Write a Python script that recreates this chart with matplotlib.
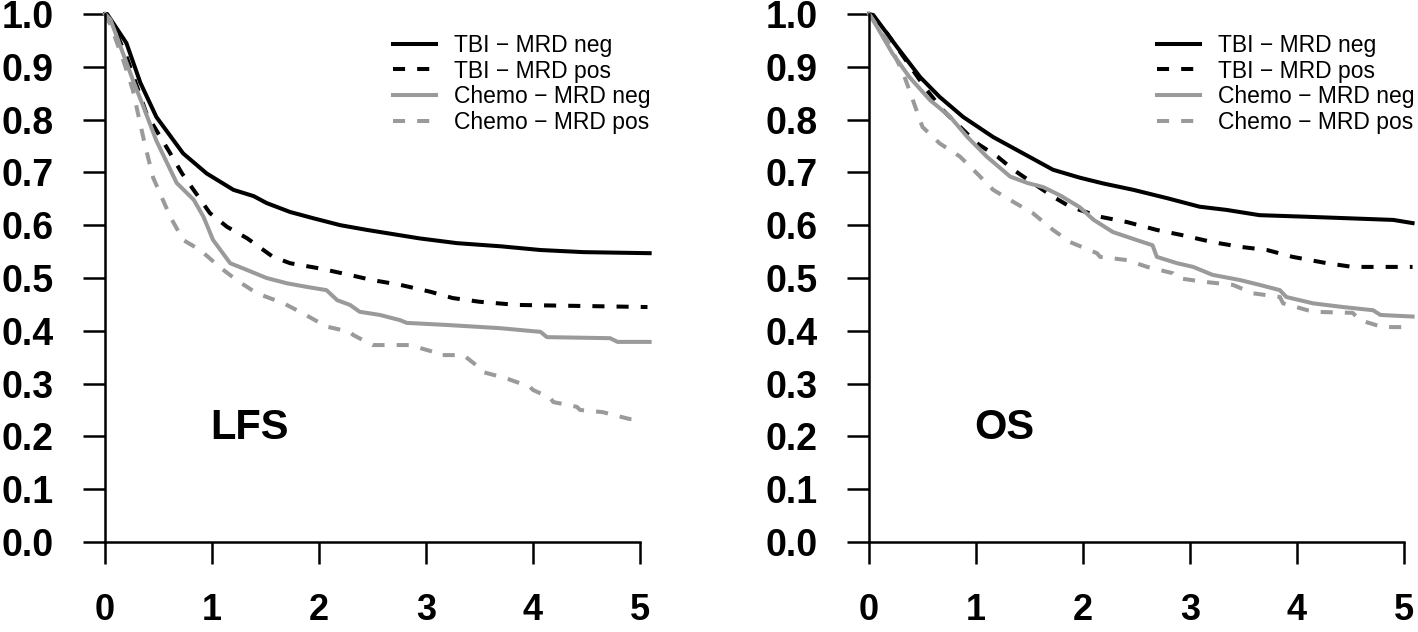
import matplotlib.pyplot as plt

plt.rcParams['font.family'] = ['Liberation Sans', 'DejaVu Sans']

# Data (years, survival probability)
labels = ["TBI \u2212 MRD neg", "TBI \u2212 MRD pos", "Chemo \u2212 MRD neg", "Chemo \u2212 MRD pos"]

# LFS panel
lfs_tbi_neg_t = [0, 0.02, 0.2, 0.33, 0.48, 0.73, 0.95, 1.2, 1.39, 1.51, 1.73, 1.95, 2.2, 2.45, 2.94, 3.29, 3.7, 4.07, 4.47, 5.09]
lfs_tbi_neg_s = [1.0, 1.0, 0.945, 0.87, 0.805, 0.736, 0.698, 0.667, 0.655, 0.642, 0.625, 0.613, 0.60, 0.591, 0.575, 0.566, 0.56, 0.553, 0.549, 0.547]
lfs_tbi_pos_t = [0, 0.05, 0.2, 0.39, 0.61, 0.72, 0.98, 1.14, 1.33, 1.57, 1.73, 2.01, 2.26, 2.5, 2.76, 3.04, 3.25, 3.5, 3.85, 5.07]
lfs_tbi_pos_s = [1.0, 0.99, 0.92, 0.81, 0.736, 0.698, 0.623, 0.597, 0.575, 0.54, 0.528, 0.518, 0.507, 0.496, 0.487, 0.474, 0.462, 0.455, 0.449, 0.445]
lfs_chemo_neg_t = [0, 0.05, 0.27, 0.36, 0.48, 0.67, 0.83, 0.92, 1.01, 1.17, 1.33, 1.51, 1.7, 1.89, 2.07, 2.17, 2.29, 2.38, 2.57, 2.76, 2.82, 3.2, 3.69, 4.07, 4.13, 4.72, 4.79, 5.09]
lfs_chemo_neg_s = [1.0, 0.99, 0.87, 0.824, 0.76, 0.68, 0.648, 0.616, 0.572, 0.528, 0.515, 0.50, 0.49, 0.483, 0.477, 0.458, 0.449, 0.436, 0.43, 0.42, 0.415, 0.411, 0.405, 0.398, 0.388, 0.386, 0.379, 0.379]
lfs_chemo_pos_t = [0, 0.05, 0.17, 0.26, 0.31, 0.37, 0.45, 0.61, 0.73, 0.89, 1.07, 1.23, 1.42, 1.67, 1.85, 2.07, 2.29, 2.32, 2.5, 2.85, 3.07, 3.1, 3.35, 3.5, 3.53, 3.75, 3.97, 4.0, 4.16, 4.19, 4.41, 4.44, 4.65, 4.9, 5.0]
lfs_chemo_pos_s = [1.0, 0.98, 0.913, 0.856, 0.81, 0.755, 0.69, 0.616, 0.572, 0.553, 0.521, 0.496, 0.471, 0.452, 0.433, 0.408, 0.398, 0.392, 0.373, 0.373, 0.36, 0.354, 0.354, 0.33, 0.322, 0.31, 0.294, 0.288, 0.273, 0.265, 0.256, 0.25, 0.246, 0.233, 0.233]

# OS panel
os_tbi_neg_t = [0, 0.04, 0.26, 0.48, 0.66, 0.88, 1.16, 1.44, 1.72, 1.97, 2.19, 2.47, 2.79, 3.09, 3.34, 3.65, 4.09, 4.9, 5.08]
os_tbi_neg_s = [1.0, 0.998, 0.938, 0.88, 0.843, 0.805, 0.767, 0.736, 0.705, 0.69, 0.679, 0.667, 0.651, 0.635, 0.629, 0.619, 0.616, 0.61, 0.604]
os_tbi_pos_t = [0, 0.17, 0.54, 0.69, 1.01, 1.2, 1.35, 1.53, 1.72, 1.88, 2.16, 2.41, 2.69, 2.93, 3.21, 3.47, 3.72, 3.96, 4.28, 4.52, 5.08]
os_tbi_pos_s = [1.0, 0.963, 0.856, 0.818, 0.755, 0.73, 0.705, 0.68, 0.654, 0.635, 0.616, 0.606, 0.591, 0.581, 0.568, 0.559, 0.553, 0.54, 0.528, 0.521, 0.521]
os_chemo_neg_t = [0, 0.04, 0.22, 0.38, 0.57, 0.76, 0.92, 1.1, 1.32, 1.48, 1.63, 1.79, 1.97, 2.1, 2.28, 2.5, 2.65, 2.69, 2.88, 3.03, 3.21, 3.47, 3.65, 3.84, 3.9, 4.15, 4.43, 4.71, 4.78, 5.08]
os_chemo_neg_s = [1.0, 0.988, 0.925, 0.88, 0.837, 0.805, 0.767, 0.73, 0.692, 0.68, 0.672, 0.656, 0.634, 0.61, 0.587, 0.572, 0.562, 0.54, 0.528, 0.521, 0.506, 0.496, 0.487, 0.477, 0.464, 0.452, 0.445, 0.439, 0.43, 0.427]
os_chemo_pos_t = [0, 0.05, 0.17, 0.32, 0.41, 0.5, 0.66, 0.85, 1.01, 1.16, 1.35, 1.53, 1.72, 1.88, 2.13, 2.16, 2.41, 2.6, 2.84, 2.88, 3.12, 3.4, 3.59, 3.84, 3.87, 4.15, 4.52, 4.59, 4.8, 5.08]
os_chemo_pos_s = [1.0, 0.985, 0.95, 0.888, 0.837, 0.786, 0.755, 0.73, 0.698, 0.667, 0.644, 0.623, 0.591, 0.568, 0.547, 0.54, 0.534, 0.521, 0.509, 0.50, 0.493, 0.487, 0.471, 0.464, 0.452, 0.436, 0.434, 0.42, 0.407, 0.407]

x_ticks = [0, 1, 2, 3, 4, 5]
y_ticks = [0.0, 0.1, 0.2, 0.3, 0.4, 0.5, 0.6, 0.7, 0.8, 0.9, 1.0]

panels = [
    ("LFS", (1.35, 0.215),
     [(lfs_tbi_neg_t, lfs_tbi_neg_s), (lfs_tbi_pos_t, lfs_tbi_pos_s),
      (lfs_chemo_neg_t, lfs_chemo_neg_s), (lfs_chemo_pos_t, lfs_chemo_pos_s)]),
    ("OS", (1.26, 0.215),
     [(os_tbi_neg_t, os_tbi_neg_s), (os_tbi_pos_t, os_tbi_pos_s),
      (os_chemo_neg_t, os_chemo_neg_s), (os_chemo_pos_t, os_chemo_pos_s)]),
]

gray = "#9a9a9a"
styles = [
    dict(color="black", linestyle="-"),
    dict(color="black", linestyle=(0, (3, 3))),
    dict(color=gray, linestyle="-"),
    dict(color=gray, linestyle=(0, (3, 3))),
]

fig = plt.figure(figsize=(14.18, 6.32), dpi=100)
W, H = 1418, 632
px_per_year = 107
lefts = [105, 869]

for (name, txt_pos, curves), left in zip(panels, lefts):
    ax = fig.add_axes([left / W, 90 / H, 5.1 * px_per_year / W, 528 / H])
    for (t, s), lab, st in zip(curves, labels, styles):
        ax.plot(t, s, linewidth=2.9, label=lab, clip_on=False, **st)

    ax.set_xlim(0, 5.1)
    ax.set_ylim(0, 1.0)
    ax.set_xticks(x_ticks)
    ax.set_yticks(y_ticks)
    ax.set_xticklabels([str(v) for v in x_ticks], fontsize=26, fontweight="bold")
    ax.set_yticklabels(["%.1f" % v for v in y_ticks], fontsize=27, fontweight="bold")
    ax.tick_params(axis="both", direction="out", length=16, width=1.8, color="black")
    ax.tick_params(axis="y", pad=21)
    ax.tick_params(axis="x", pad=21)

    for side in ["top", "right"]:
        ax.spines[side].set_visible(False)
    ax.spines["left"].set_linewidth(1.8)
    ax.spines["bottom"].set_linewidth(1.8)
    ax.spines["left"].set_bounds(0, 1)
    ax.spines["bottom"].set_bounds(0, 5)

    ax.text(txt_pos[0], txt_pos[1], name, fontsize=30, fontweight="bold",
            ha="center", va="center")

    ax.legend(loc="upper left", bbox_to_anchor=(0.527, 0.963), frameon=False,
              fontsize=16.5, handlelength=1.9, handletextpad=0.8,
              labelspacing=0.13, borderpad=0, borderaxespad=0)

fig.savefig("out.png", dpi=100)
